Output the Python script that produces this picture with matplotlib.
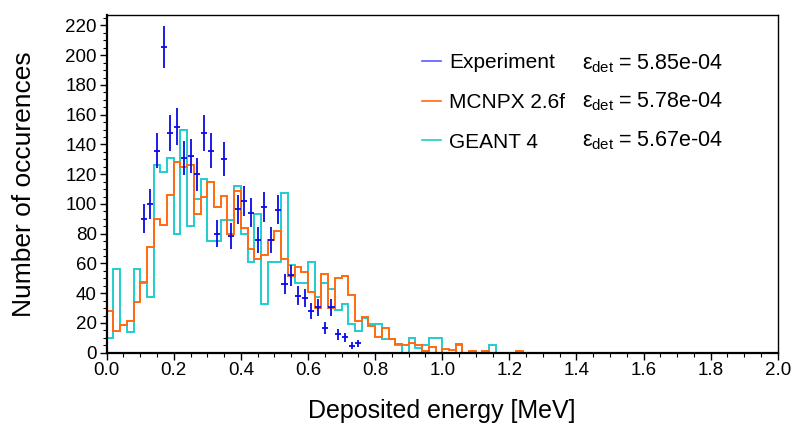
import numpy as np
import matplotlib
matplotlib.use("Agg")
import matplotlib.pyplot as plt
from matplotlib.lines import Line2D
from matplotlib.ticker import MultipleLocator, FormatStrFormatter

plt.rcParams['font.family'] = ['Liberation Sans', 'DejaVu Sans']
plt.rcParams['mathtext.fontset'] = 'custom'
plt.rcParams['mathtext.rm'] = 'Liberation Sans'
plt.rcParams['mathtext.it'] = 'Liberation Sans'

# ---- data ----
bin_edges = np.round(np.arange(0, 2.0001, 0.02), 4)

mcnpx = [28.2, 14.3, 18.8, 21.5, 33.8, 47.7, 71.0, 90.0, 86.0, 106.0,
         128.5, 125.0, 126.4, 93.5, 105.0, 114.6, 98.0, 105.4, 80.0, 108.7,
         84.0, 70.0, 63.0, 65.5, 76.0, 82.0, 63.3, 51.5, 57.5, 54.0,
         40.5, 30.2, 52.6, 30.2, 50.3, 51.7, 38.7, 21.3, 23.7, 18.1,
         10.7, 16.5, 9.3, 6.0, 5.0, 6.4, 5.0, 1.3, 3.6, 0.0,
         2.5, 1.5, 6.0, 0.0, 1.3, 0.0, 1.3, 0.0, 0.0, 0.0,
         0.0, 1.3, 0.0, 0.0, 0.0, 0.0, 0.0, 0.0, 0.0, 0.0,
         0.0, 0.0, 0.0, 0.0, 0.0, 0.0, 0.0, 0.0, 0.0, 0.0,
         0.0, 0.0, 0.0, 0.0, 0.0, 0.0, 0.0, 0.0, 0.0, 0.0,
         0.0, 0.0, 0.0, 0.0, 0.0, 0.0, 0.0, 0.0, 0.0, 0.0]

geant4 = [9.7, 56.2, 18.6, 14.1, 56.2, 46.6, 37.6, 126.4, 121.5, 131.0,
          80.0, 149.8, 85.0, 103.0, 116.7, 75.0, 75.0, 89.0, 89.0, 112.0,
          80.0, 60.7, 93.5, 33.0, 60.7, 60.7, 107.6, 59.0, 47.0, 47.0,
          61.0, 37.6, 47.0, 42.5, 28.6, 33.0, 19.0, 14.5, 23.6, 19.0,
          19.0, 9.5, 9.5, 5.0, 0.0, 9.7, 3.0, 5.0, 9.7, 9.7,
          0.0, 0.0, 5.0, 0.0, 0.0, 0.0, 0.0, 5.0, 0.0, 0.0,
          0.0, 0.0, 0.0, 0.0, 0.0, 0.0, 0.0, 0.0, 0.0, 0.0,
          0.0, 0.0, 0.0, 0.0, 0.0, 0.0, 0.0, 0.0, 0.0, 0.0,
          0.0, 0.0, 0.0, 0.0, 0.0, 0.0, 0.0, 0.0, 0.0, 0.0,
          0.0, 0.0, 0.0, 0.0, 0.0, 0.0, 0.0, 0.0, 0.0, 0.0]

exp_x = [0.11, 0.13, 0.15, 0.17, 0.19, 0.21, 0.23, 0.25, 0.27, 0.29,
         0.31, 0.33, 0.35, 0.37, 0.39, 0.41, 0.43, 0.45, 0.47, 0.49,
         0.51, 0.53, 0.55, 0.57, 0.59, 0.61, 0.63, 0.65, 0.67, 0.69,
         0.71, 0.73, 0.75]
exp_y = [90.2, 100.2, 135.8, 205.6, 147.9, 151.9, 131.0, 132.2, 119.9, 147.9,
         135.7, 80.1, 130.0, 78.3, 96.3, 102.0, 94.0, 76.0, 98.0, 76.0,
         96.2, 46.1, 51.9, 38.3, 36.5, 28.2, 30.4, 16.3, 30.4, 12.3,
         10.3, 4.7, 6.3]
exp_err = [9.5, 10.0, 11.7, 14.3, 12.2, 12.3, 11.4, 11.5, 11.0, 12.2,
           11.7, 9.0, 11.4, 8.8, 9.8, 10.1, 9.7, 8.7, 9.9, 8.7,
           9.8, 6.8, 7.2, 6.2, 6.0, 5.3, 5.5, 4.0, 5.5, 3.5,
           3.2, 2.2, 2.5]
exp_xerr = 0.009

labels = ["Experiment", "MCNPX 2.6f", "GEANT 4"]
eff_labels = [r"$\varepsilon_{\rm det}\;$= 5.85e-04",
              r"$\varepsilon_{\rm det}\;$= 5.78e-04",
              r"$\varepsilon_{\rm det}\;$= 5.67e-04"]

c_exp = '#0a0ae6'
c_mcnp = '#ff6a10'
c_geant = '#22cccc'
c_exp_leg = '#5a5aff'

# ---- figure ----
fig = plt.figure(figsize=(7.92, 4.30), dpi=100)
ax = fig.add_axes([0.1347, 0.1798, 0.8473, 0.7852])

ax.stairs(geant4, bin_edges, color=c_geant, linewidth=1.4)
ax.stairs(mcnpx, bin_edges, color=c_mcnp, linewidth=1.4)
ax.errorbar(exp_x, exp_y, yerr=exp_err, xerr=exp_xerr, fmt='none',
            ecolor=c_exp, elinewidth=1.3, capsize=0)

ax.set_xlim(0, 2.0)
ax.set_ylim(0, 227)
ax.xaxis.set_major_locator(MultipleLocator(0.2))
ax.xaxis.set_minor_locator(MultipleLocator(0.05))
ax.yaxis.set_major_locator(MultipleLocator(20))
ax.yaxis.set_minor_locator(MultipleLocator(5))
ax.xaxis.set_major_formatter(FormatStrFormatter('%.1f'))
ax.tick_params(which='major', direction='out', length=5, width=1.0,
               labelsize=13.5, top=False, right=False, pad=2)
ax.tick_params(which='minor', direction='out', length=3, width=0.8,
               top=False, right=False)

for s in ['left', 'bottom']:
    ax.spines[s].set_linewidth(1.6)
for s in ['top', 'right']:
    ax.spines[s].set_linewidth(1.0)

ax.set_xlabel("Deposited energy [MeV]", fontsize=18, labelpad=14)
ax.set_ylabel("Number of occurences", fontsize=19, labelpad=21)

handles = [Line2D([], [], color=c_exp_leg, lw=1.2),
           Line2D([], [], color=c_mcnp, lw=1.2),
           Line2D([], [], color=c_geant, lw=1.2)]
leg = ax.legend(handles, labels, loc='upper left', bbox_to_anchor=(0.4697, 0.8877),
                frameon=False, fontsize=15, handlelength=0.9, handletextpad=0.4,
                labelspacing=1.0, borderpad=0, borderaxespad=0)

row_y = [0.8566, 0.7441, 0.6286]
for yy, t in zip(row_y, eff_labels):
    ax.text(0.709, yy, t, transform=ax.transAxes, fontsize=15.5,
            va='center', ha='left')

fig.savefig("out.png", dpi=100)
